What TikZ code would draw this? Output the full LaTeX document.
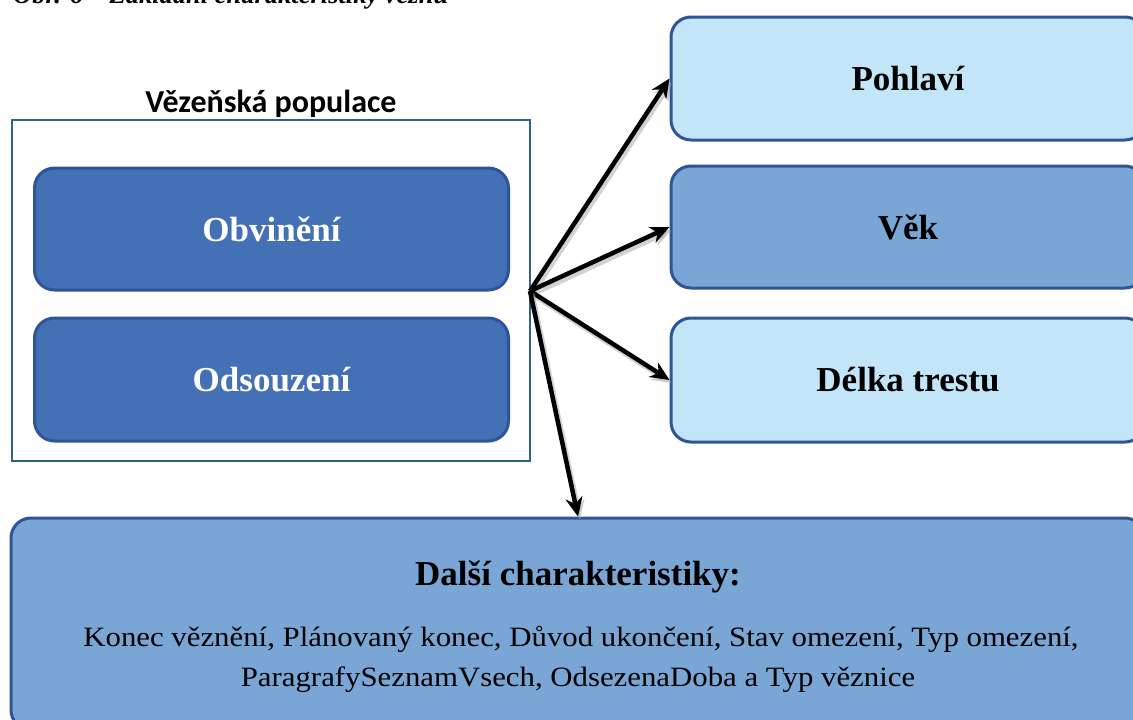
\documentclass[tikz,border=0pt]{standalone}
\usepackage{fontspec}
\setmainfont{Liberation Serif}
\newfontfamily\widerserif[FakeStretch=1.1]{Liberation Serif}
\newfontfamily\carlito{Carlito}
\usetikzlibrary{arrows.meta}
\definecolor{darkblue}{HTML}{4470B6}
\definecolor{midblue}{HTML}{7AA6D6}
\definecolor{lightblue}{HTML}{C2E6F7}
\definecolor{edgeblue}{HTML}{2E5597}
\definecolor{framecol}{HTML}{2F6486}
\tikzset{
  rbox/.style={draw=edgeblue, line width=3pt, rounded corners=20pt, inner sep=0pt, minimum width=474pt},
  bigtxt/.style={font=\fontsize{35}{42}\selectfont\bfseries},
  smalltxt/.style={font=\widerserif\fontsize{28}{40}\selectfont, inner sep=0pt, anchor=base},
  conn/.style={-{Stealth[length=19pt,width=17pt,inset=6pt]}, line width=4.5pt, black,
    preaction={draw, black!35, line width=5.5pt, opacity=0.5, transform canvas={shift={(2pt,-3pt)}}}},
}
\begin{document}
\begin{tikzpicture}[x=1pt,y=-1pt]
\clip (0,0) rectangle (1133,720);
\useasboundingbox (0,0) rectangle (1133,720);
\fill[white] (0,0) rectangle (1133,720);
% caption (cut off at the top edge, as in the reference)
\node[anchor=base west, inner sep=0pt, font=\fontsize{26.5}{30}\selectfont\bfseries\itshape] (cap) at (13,4) {Obr. 6 – Základní charakteristiky vězňů};
% population frame
\node[draw=framecol, line width=2.5pt, minimum width=518pt, minimum height=341pt, inner sep=0pt] (pop) at (271,290.5) {};
\node[font=\carlito\fontsize{32}{38}\selectfont\bfseries, inner sep=0pt, anchor=base] (poplabel) at (271,112) {Vězeňská populace};
\node[rbox, fill=darkblue, minimum height=122pt, text=white, bigtxt] (obv) at (271.5,229) {Obvinění};
\node[rbox, fill=darkblue, minimum height=123pt, text=white, bigtxt] (ods) at (271.5,379.5) {Odsouzení};
% right boxes
\node[rbox, fill=lightblue, minimum height=123pt, bigtxt] (pohl) at (908,78.5) {Pohlaví};
\node[rbox, fill=midblue, minimum height=122pt, bigtxt] (vek) at (908,227) {Věk};
\node[rbox, fill=lightblue, minimum height=124pt, bigtxt] (delka) at (908,380) {Délka trestu};
% bottom box
\node[rbox, fill=midblue, minimum width=1134pt, minimum height=212pt] (dalsi) at (578,624) {};
\node[bigtxt, inner sep=0pt, anchor=base] (dalsititle) at (578,585) {Další charakteristiky:};
\node[smalltxt] (line1) at (581,646) {Konec věznění, Plánovaný konec, Důvod ukončení, Stav omezení, Typ omezení,};
\node[smalltxt] (line2) at (578,686) {ParagrafySeznamVsech, OdsezenaDoba a Typ věznice};
% connectors
\coordinate (hub) at (530,291);
\draw[conn] (hub) -- (pohl.west);
\draw[conn] (hub) -- (vek.west);
\draw[conn] (hub) -- (delka.west);
\draw[conn] (hub) -- (dalsi.north);
\end{tikzpicture}
\end{document}
